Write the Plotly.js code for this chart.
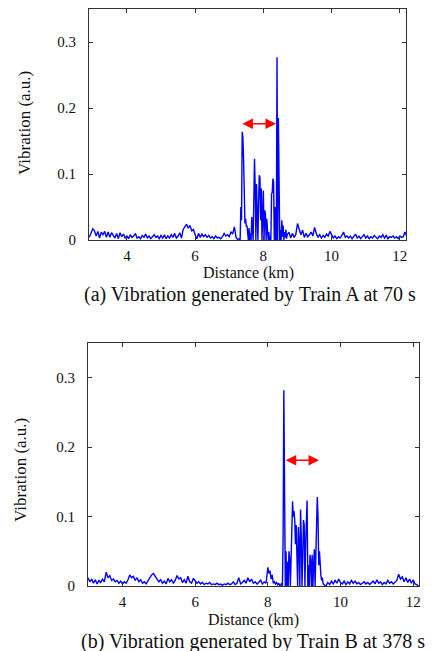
<!DOCTYPE html>
<html>
<head>
<meta charset="utf-8">
<script src="https://cdn.plot.ly/plotly-3.0.1.min.js"></script>
<style>html,body{margin:0;padding:0;background:#fff;}#chart{width:433px;height:651px;}</style>
</head>
<body>
<div id="chart"></div>
<script>
// ---- Data: panel (a) Train A at 70 s ----
const topDistance = [
2.90,2.95,3.00,3.05,3.10,3.15,3.20,3.25,3.30,3.35,3.40,3.45,3.50,3.55,3.60,3.65,3.70,3.75,3.80,3.85,3.90,3.95,
4.00,4.05,4.10,4.15,4.20,4.25,4.30,4.35,4.40,4.45,4.50,4.55,4.60,4.65,4.70,4.75,4.80,4.85,4.90,4.95,
5.00,5.05,5.10,5.15,5.20,5.25,5.30,5.35,5.40,5.45,5.50,5.55,5.60,5.65,5.70,5.75,5.80,5.85,5.90,5.95,
6.00,6.05,6.10,6.15,6.20,6.25,6.30,6.35,6.40,6.45,6.50,6.55,6.60,6.65,6.70,6.75,6.80,6.85,6.90,6.95,
7.00,7.05,7.10,7.15,7.20,
7.22,7.24,7.26,7.28,7.30,7.32,7.34,7.36,7.38,7.40,7.42,7.44,7.46,7.48,7.50,7.52,7.54,7.56,7.58,7.60,
7.62,7.64,7.66,7.68,7.70,7.72,7.74,7.76,7.78,7.80,7.82,7.84,7.86,7.88,7.90,7.92,7.94,7.96,7.98,8.00,
8.02,8.04,8.06,8.08,8.10,8.12,8.14,8.16,8.18,8.20,8.22,8.24,8.26,8.28,8.30,8.32,8.34,8.36,8.38,8.40,
8.42,8.44,8.46,8.48,8.50,8.52,8.54,8.56,8.58,8.60,8.62,8.64,8.66,8.68,8.70,
8.75,8.80,8.85,8.90,8.95,9.00,9.05,9.10,9.15,9.20,9.25,9.30,9.35,9.40,9.45,9.50,9.55,9.60,9.65,9.70,9.75,9.80,9.85,9.90,9.95,
10.00,10.05,10.10,10.15,10.20,10.25,10.30,10.35,10.40,10.45,10.50,10.55,10.60,10.65,10.70,10.75,10.80,10.85,10.90,10.95,
11.00,11.05,11.10,11.15,11.20,11.25,11.30,11.35,11.40,11.45,11.50,11.55,11.60,11.65,11.70,11.75,11.80,11.85,11.90,11.95,
12.00,12.05,12.10,12.15,12.20
];
const topVibration = [
0.004,0.012,0.017,0.014,0.006,0.013,0.003,0.012,0.008,0.013,0.004,0.012,0.004,0.011,0.007,0.003,0.010,0.002,0.011,0.005,0.009,0.003,
0.006,0.002,0.008,0.004,0.006,0.010,0.003,0.005,0.002,0.007,0.004,0.009,0.003,0.006,0.002,0.005,0.008,0.004,0.006,0.002,
0.007,0.003,0.008,0.002,0.006,0.003,0.008,0.004,0.010,0.003,0.006,0.011,0.003,0.016,0.021,0.024,0.018,0.022,0.014,0.016,
0.008,0.002,0.010,0.004,0.009,0.005,0.008,0.004,0.007,0.003,0.005,0.002,0.006,0.003,0.004,0.002,0.005,0.010,0.006,0.008,
0.005,0.012,0.009,0.020,0.004,
0.003,0.001,0.000,0.002,0.000,0.001,0.050,0.030,0.164,0.155,0.122,0.030,0.025,0.032,0.020,0.022,0.012,0.000,0.018,0.000,
0.010,0.000,0.035,0.010,0.000,0.060,0.123,0.080,0.000,0.085,0.040,0.000,0.055,0.098,0.095,0.030,0.078,0.000,0.062,0.075,
0.000,0.045,0.040,0.000,0.032,0.020,0.000,0.012,0.000,0.005,0.000,0.070,0.072,0.093,0.088,0.000,0.050,0.000,0.000,0.277,
0.000,0.185,0.085,0.000,0.015,0.000,0.030,0.005,0.022,0.000,0.012,0.004,0.016,0.002,0.008,
0.012,0.003,0.010,0.004,0.008,0.025,0.018,0.008,0.015,0.004,0.010,0.005,0.008,0.012,0.006,0.019,0.010,0.004,0.008,0.003,0.007,0.004,0.009,0.006,0.013,
0.008,0.003,0.006,0.002,0.005,0.003,0.007,0.012,0.004,0.006,0.003,0.006,0.002,0.005,0.009,0.003,0.006,0.002,0.005,0.008,
0.003,0.006,0.002,0.005,0.003,0.007,0.004,0.002,0.006,0.004,0.008,0.003,0.007,0.002,0.005,0.004,0.006,0.003,0.005,0.002,
0.006,0.004,0.005,0.012,0.006
];

// ---- Data: panel (b) Train B at 378 s ----
const bottomDistance = [
3.05,3.10,3.15,3.20,3.25,3.30,3.35,3.40,3.45,3.50,3.55,3.60,3.65,3.70,3.75,3.80,3.85,3.90,3.95,
4.00,4.05,4.10,4.15,4.20,4.25,4.30,4.35,4.40,4.45,4.50,4.55,4.60,4.65,4.70,4.75,4.80,4.85,4.90,4.95,
5.00,5.05,5.10,5.15,5.20,5.25,5.30,5.35,5.40,5.45,5.50,5.55,5.60,5.65,5.70,5.75,5.80,5.85,5.90,5.95,
6.00,6.05,6.10,6.15,6.20,6.25,6.30,6.35,6.40,6.45,6.50,6.55,6.60,6.65,6.70,6.75,6.80,6.85,6.90,6.95,
7.00,7.05,7.10,7.15,7.20,7.25,7.30,7.35,7.40,7.45,7.50,7.55,7.60,7.65,7.70,7.75,7.80,7.85,7.90,7.95,
8.00,8.03,8.06,8.09,8.12,8.15,8.18,8.21,8.24,8.27,8.30,8.33,8.36,
8.38,8.40,8.42,8.44,8.46,8.48,8.50,8.52,8.54,8.56,8.58,8.60,8.62,8.64,8.66,8.68,8.70,8.72,8.74,8.76,8.78,8.80,
8.82,8.84,8.86,8.88,8.90,8.92,8.94,8.96,8.98,9.00,9.02,9.04,9.06,9.08,9.10,9.12,9.14,9.16,9.18,
9.20,9.22,9.24,9.26,9.28,9.30,9.32,9.34,9.36,9.38,9.40,9.42,9.44,9.46,9.48,9.50,9.52,9.54,
9.60,9.65,9.70,9.75,9.80,9.85,9.90,9.95,
10.00,10.05,10.10,10.15,10.20,10.25,10.30,10.35,10.40,10.45,10.50,10.55,10.60,10.65,10.70,10.75,10.80,10.85,10.90,10.95,
11.00,11.05,11.10,11.15,11.20,11.25,11.30,11.35,11.40,11.45,11.50,11.55,11.60,11.65,11.70,11.75,11.80,11.85,11.90,11.95,
12.00,12.05,12.10,12.15
];
const bottomVibration = [
0.012,0.006,0.010,0.004,0.009,0.003,0.008,0.005,0.010,0.006,0.020,0.012,0.015,0.008,0.010,0.006,0.008,0.004,0.007,
0.003,0.006,0.004,0.009,0.016,0.012,0.014,0.008,0.012,0.006,0.009,0.004,0.006,0.003,0.008,0.012,0.016,0.018,0.014,0.010,
0.006,0.009,0.004,0.007,0.003,0.011,0.006,0.009,0.004,0.008,0.015,0.010,0.012,0.005,0.009,0.004,0.014,0.006,0.004,0.011,
0.008,0.004,0.006,0.003,0.005,0.002,0.004,0.003,0.005,0.002,0.003,0.002,0.004,0.002,0.003,0.001,0.003,0.002,0.004,0.002,
0.003,0.006,0.002,0.004,0.012,0.003,0.005,0.008,0.004,0.012,0.006,0.010,0.004,0.006,0.003,0.005,0.009,0.003,0.006,0.004,
0.027,0.018,0.022,0.010,0.016,0.004,0.006,0.003,0.005,0.002,0.004,0.000,0.002,
0.004,0.000,0.068,0.282,0.142,0.000,0.050,0.000,0.035,0.000,0.050,0.040,0.000,0.055,0.095,0.122,0.100,0.108,0.095,0.060,0.088,0.030,
0.000,0.085,0.060,0.000,0.110,0.070,0.000,0.040,0.095,0.088,0.000,0.060,0.090,0.123,0.000,0.030,0.000,0.045,0.035,
0.000,0.045,0.000,0.030,0.053,0.000,0.040,0.060,0.128,0.102,0.030,0.050,0.020,0.015,0.008,0.012,0.004,0.002,
0.000,0.005,0.002,0.007,0.003,0.008,0.004,0.010,
0.005,0.003,0.007,0.002,0.006,0.003,0.008,0.004,0.007,0.003,0.005,0.002,0.004,0.006,0.003,0.005,0.002,0.004,0.007,0.003,
0.009,0.004,0.006,0.002,0.005,0.003,0.008,0.004,0.006,0.003,0.005,0.008,0.017,0.010,0.013,0.006,0.012,0.005,0.010,0.004,
0.009,0.003,0.002,0.000
];

// Red double arrows (data coordinates): [start km, end km, level]
const arrowTop = [7.34, 8.37, 0.176];
const arrowBottom = [8.45, 9.41, 0.181];

const xTicks = [4, 6, 8, 10, 12];
const yTicks = [0, 0.1, 0.2, 0.3];
const yTickText = ['0', '0.1', '0.2', '0.3'];

const FONT = '"Liberation Serif", "Times New Roman", serif';
const W = 433, H = 651;
const px = v => v / W;
const py = v => (H - v) / H;

const lineStyle = {color: '#0000ff', width: 1.4};

const traces = [
  {x: topDistance, y: topVibration, type: 'scatter', mode: 'lines', line: lineStyle, xaxis: 'x', yaxis: 'y', hoverinfo: 'skip'},
  {x: bottomDistance, y: bottomVibration, type: 'scatter', mode: 'lines', line: lineStyle, xaxis: 'x2', yaxis: 'y2', hoverinfo: 'skip'}
];

function xAxis(domain, range, anchor) {
  return {
    domain: domain, range: range, anchor: anchor,
    tickmode: 'array', tickvals: xTicks,
    ticks: 'inside', ticklen: 4, tickcolor: '#333', tickwidth: 1,
    showline: true, linecolor: '#333', linewidth: 1, mirror: 'ticks',
    showgrid: false, zeroline: false,
    tickfont: {family: FONT, size: 15, color: '#111'},
    ticklabelstandoff: 2
  };
}
function yAxis(domain, anchor) {
  return {
    domain: domain, range: [0, 0.35], anchor: anchor,
    tickmode: 'array', tickvals: yTicks, ticktext: yTickText,
    ticks: 'inside', ticklen: 4, tickcolor: '#333', tickwidth: 1,
    showline: true, linecolor: '#333', linewidth: 1, mirror: 'ticks',
    showgrid: false, zeroline: false,
    tickfont: {family: FONT, size: 15, color: '#111'},
    ticklabelstandoff: 9
  };
}

function arrowAnn(a, xr, yr) {
  return {
    xref: xr, yref: yr, axref: xr, ayref: yr,
    x: a[1], y: a[2], ax: a[0], ay: a[2],
    text: '', showarrow: true, arrowside: 'end+start',
    arrowhead: 2, startarrowhead: 2, arrowsize: 1.4, startarrowsize: 1.4,
    arrowwidth: 1.5, arrowcolor: '#ff0000', standoff: 0, startstandoff: 0
  };
}
function textAnn(text, x, y, size, angle) {
  return {
    xref: 'paper', yref: 'paper', x: px(x), y: py(y),
    xanchor: 'center', yanchor: 'middle', showarrow: false,
    text: text, textangle: angle || 0,
    font: {family: FONT, size: size, color: '#111'}
  };
}

const layout = {
  width: W, height: H,
  margin: {l: 0, r: 0, t: 0, b: 0},
  paper_bgcolor: '#fff', plot_bgcolor: '#fff',
  showlegend: false,
  font: {family: FONT, color: '#111'},
  xaxis: xAxis([px(89), px(406)], [2.89, 12.18], 'y'),
  yaxis: yAxis([py(240), py(9)], 'x'),
  xaxis2: xAxis([px(88), px(419)], [3.05, 12.16], 'y2'),
  yaxis2: yAxis([py(586), py(343)], 'x2'),
  annotations: [
    arrowAnn(arrowTop, 'x', 'y'),
    arrowAnn(arrowBottom, 'x2', 'y2'),
    textAnn('Vibration (a.u.)', 25, 123, 17, -90),
    textAnn('Distance (km)', 248, 273, 16),
    textAnn('(a) Vibration generated by Train A at 70 s', 250, 294, 20),
    textAnn('Vibration (a.u.)', 20, 470, 17, -90),
    textAnn('Distance (km)', 253, 620, 16),
    textAnn('(b) Vibration generated by Train B at 378 s', 253, 641, 20)
  ]
};

Plotly.newPlot('chart', traces, layout, {staticPlot: true, displayModeBar: false});
</script>
</body>
</html>
